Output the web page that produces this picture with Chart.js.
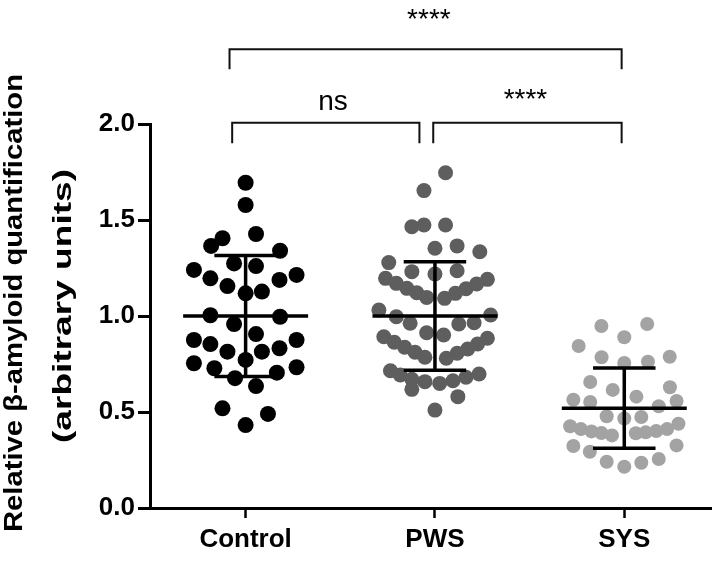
<!DOCTYPE html>
<html>
<head>
<meta charset="utf-8">
<script src="https://cdn.jsdelivr.net/npm/chart.js@4"></script>
<style>
  html, body { margin: 0; padding: 0; background: #ffffff; }
  #wrap { width: 719px; height: 563px; }
</style>
</head>
<body>
<div id="wrap"><canvas id="chart" width="719" height="563"></canvas></div>
<script>
// Group labels along the x axis
const categories = ['Control', 'PWS', 'SYS'];

// Individual measurements per group
const controlValues = [1.694, 1.578, 1.427, 1.405, 1.365, 1.340, 1.274, 1.260, 1.240, 1.214,
  1.196, 1.188, 1.156, 1.118, 1.127, 1.004, 0.996, 0.958, 0.906, 0.875,
  0.875, 0.854, 0.814, 0.814, 0.832, 0.771, 0.754, 0.728, 0.733, 0.676,
  0.705, 0.635, 0.519, 0.490, 0.432];
// horizontal scatter of each dot around its group (fraction of group spacing)
const controlSpread = [0, 0, 0.055, -0.122, -0.182, 0.182, -0.061, 0.055, -0.273, 0.269,
  -0.186, 0.179, -0.096, 0, 0.086, -0.186, 0.182, -0.061, 0.055, -0.273,
  0.269, -0.186, -0.096, 0.086, 0.179, 0, -0.273, -0.165, 0.269, -0.056,
  0.165, 0.055, -0.122, 0.118, 0];

const pwsValues = [1.746, 1.653, 1.465, 1.474, 1.474, 1.353, 1.365, 1.335, 1.278, 1.231,
  1.219, 1.236, 1.196, 1.170, 1.144, 1.121, 1.097, 1.191, 1.167, 1.142,
  1.118, 1.092, 1.031, 0.996, 0.962, 1.005, 0.965, 0.958, 0.913, 0.901,
  0.892, 0.863, 0.837, 0.811, 0.785, 0.884, 0.854, 0.828, 0.806, 0.780,
  0.715, 0.693, 0.670, 0.658, 0.649, 0.663, 0.681, 0.698, 0.618, 0.580,
  0.510];
const pwsSpread = [0.056, -0.058, -0.122, -0.058, 0.056, 0, 0.117, 0.237, -0.244, -0.122,
  0, 0.117, -0.261, -0.204, -0.148, -0.096, -0.044, 0.277, 0.220, 0.164,
  0.108, 0.051, -0.296, -0.204, -0.131, 0.294, 0.207, 0.126, -0.044, 0.046,
  -0.270, -0.215, -0.160, -0.105, -0.053, 0.277, 0.225, 0.173, 0.117, 0.060,
  -0.235, -0.183, -0.122, -0.053, 0.025, 0.095, 0.164, 0.233, -0.122, 0.121,
  0];

const sysValues = [0.948, 0.958, 0.889, 0.844, 0.788, 0.785, 0.755, 0.762, 0.656, 0.629,
  0.615, 0.580, 0.564, 0.552, 0.557, 0.530, 0.478, 0.466, 0.474, 0.426,
  0.411, 0.399, 0.391, 0.378, 0.439, 0.411, 0.401, 0.394, 0.389, 0.323,
  0.293, 0.326, 0.255, 0.241, 0.215, 0.236];
const sysSpread = [-0.121, 0.121, 0, -0.241, 0.240, -0.120, 0, 0.125, -0.180, 0.241,
  -0.061, 0.064, -0.269, -0.180, 0.276, 0.182, -0.093, 0, 0.090, -0.286,
  -0.229, -0.173, -0.121, -0.065, 0.286, 0.226, 0.169, 0.113, 0.061, -0.269,
  -0.182, 0.276, 0.182, -0.093, 0, 0.090];

// Mean and standard deviation per group
const groupMeans = [1.0, 1.0, 0.52];
const groupSD = [0.315, 0.283, 0.209];

// Y axis ticks
const yTicks = [0.0, 0.5, 1.0, 1.5, 2.0];

// Pairwise comparisons (group indices) and their significance labels
const comparisonPairs = [[0, 2], [0, 1], [1, 2]];
const comparisonLabels = ['****', 'ns', '****'];

// ---------------------------------------------------------------------------

const FONT = "'Liberation Sans', Arial, Helvetica, sans-serif";
Chart.defaults.font.family = FONT;
Chart.defaults.color = '#000';

function dots(values, spread, groupIndex) {
  return values.map((v, i) => ({ x: groupIndex + 1 + spread[i], y: v }));
}

// mean line, SD whisker and caps, as one broken polyline
function errorBar(groupIndex) {
  const c = groupIndex + 1, m = groupMeans[groupIndex], s = groupSD[groupIndex];
  const half = 0.33, cap = 0.165;
  return [
    { x: c - half, y: m }, { x: c + half, y: m }, { x: c, y: null },
    { x: c, y: m - s }, { x: c, y: m + s }, { x: c, y: null },
    { x: c - cap, y: m + s }, { x: c + cap, y: m + s }, { x: c, y: null },
    { x: c - cap, y: m - s }, { x: c + cap, y: m - s }
  ];
}

// bracket geometry for each comparison (data units)
const bracketGeom = [
  { x0: 0.915, x1: 2.986, top: 2.389, foot: 2.285, textX: 1.968, textY: 2.500, size: 28 },
  { x0: 0.929, x1: 1.918, top: 2.007, foot: 1.900, textX: 1.462, textY: 2.073, size: 28 },
  { x0: 1.991, x1: 2.986, top: 2.007, foot: 1.900, textX: 2.478, textY: 2.083, size: 28 }
];

function bracketPath(k) {
  const g = bracketGeom[k];
  return [{ x: g.x0, y: g.foot }, { x: g.x0, y: g.top }, { x: g.x1, y: g.top }, { x: g.x1, y: g.foot }];
}

const lineStyle = {
  type: 'line', showLine: true, pointRadius: 0, borderColor: '#000',
  borderWidth: 3.5, borderCapStyle: 'butt', spanGaps: false, fill: false, order: 1
};
const bracketStyle = {
  type: 'line', showLine: true, pointRadius: 0, borderColor: '#111',
  borderWidth: 2, borderJoinStyle: 'miter', fill: false, clip: false, order: 1
};

const datasets = [
  { data: dots(controlValues, controlSpread, 0), backgroundColor: '#000000', pointRadius: 8, borderWidth: 0, order: 2 },
  { data: dots(pwsValues, pwsSpread, 1), backgroundColor: '#5e5e5e', pointRadius: 7.5, borderWidth: 0, order: 2 },
  { data: dots(sysValues, sysSpread, 2), backgroundColor: '#a3a3a3', pointRadius: 7, borderWidth: 0, order: 2 },
  Object.assign({ data: errorBar(0) }, lineStyle),
  Object.assign({ data: errorBar(1) }, lineStyle),
  Object.assign({ data: errorBar(2) }, lineStyle),
  Object.assign({ data: bracketPath(0) }, bracketStyle),
  Object.assign({ data: bracketPath(1) }, bracketStyle),
  Object.assign({ data: bracketPath(2) }, bracketStyle)
];

// significance labels above the brackets
const significancePlugin = {
  id: 'significance',
  afterDatasetsDraw(chart) {
    const { ctx, scales: { x, y } } = chart;
    ctx.save();
    ctx.fillStyle = '#000';
    ctx.textAlign = 'center';
    ctx.textBaseline = 'alphabetic';
    comparisonPairs.forEach((pair, k) => {
      const g = bracketGeom[k];
      ctx.font = `${g.size}px ${FONT}`;
      ctx.fillText(comparisonLabels[k], x.getPixelForValue(g.textX), y.getPixelForValue(g.textY));
    });
    ctx.restore();
  }
};

// two-line rotated y axis title; each line is drawn to a set length along the axis
function drawRotated(ctx, text, cx, cy, size, length) {
  ctx.save();
  ctx.fillStyle = '#000';
  ctx.font = `bold ${size}px ${FONT}`;
  ctx.textAlign = 'center';
  ctx.textBaseline = 'alphabetic';
  ctx.translate(cx, cy);
  ctx.rotate(-Math.PI / 2);
  const w = ctx.measureText(text).width;
  ctx.scale(length / w, 1);
  ctx.fillText(text, 0, 0);
  ctx.restore();
}

const yTitlePlugin = {
  id: 'yTitle',
  afterDraw(chart) {
    const { ctx } = chart;
    drawRotated(ctx, 'Relative \u03b2-amyloid quantification', 22, 303, 25, 458);
    drawRotated(ctx, '(arbitrary units)', 71, 306, 25, 274);
  }
};

new Chart(document.getElementById('chart'), {
  type: 'scatter',
  data: { datasets },
  plugins: [significancePlugin, yTitlePlugin],
  options: {
    responsive: false,
    animation: false,
    events: [],
    layout: { padding: { top: 124, left: 0, right: 0, bottom: 0 } },
    plugins: { legend: { display: false }, tooltip: { enabled: false } },
    scales: {
      x: {
        type: 'linear',
        min: 0.495,
        max: 3.458,
        afterBuildTicks(scale) { scale.ticks = categories.map((c, i) => ({ value: i + 1 })); },
        afterFit(scale) { scale.height = 55; },
        ticks: {
          autoSkip: false,
          maxRotation: 0,
          padding: 6,
          font: { size: 26, weight: 'bold' },
          color: '#000',
          callback(v) { return categories[Math.round(v) - 1] || ''; }
        },
        grid: { display: true, drawOnChartArea: false, drawTicks: true, tickLength: 10, tickColor: '#000', tickWidth: 2.5 },
        border: { display: true, color: '#000', width: 3 }
      },
      y: {
        type: 'linear',
        min: 0,
        max: 2,
        afterBuildTicks(scale) { scale.ticks = yTicks.map(v => ({ value: v })); },
        afterFit(scale) { scale.width = 150; },
        ticks: {
          padding: 3,
          font: { size: 26, weight: 'bold' },
          color: '#000',
          callback(v) { return Number(v).toFixed(1); }
        },
        grid: { display: true, drawOnChartArea: false, drawTicks: true, tickLength: 12, tickColor: '#000', tickWidth: 3 },
        border: { display: true, color: '#000', width: 3 }
      }
    }
  }
});
</script>
</body>
</html>
